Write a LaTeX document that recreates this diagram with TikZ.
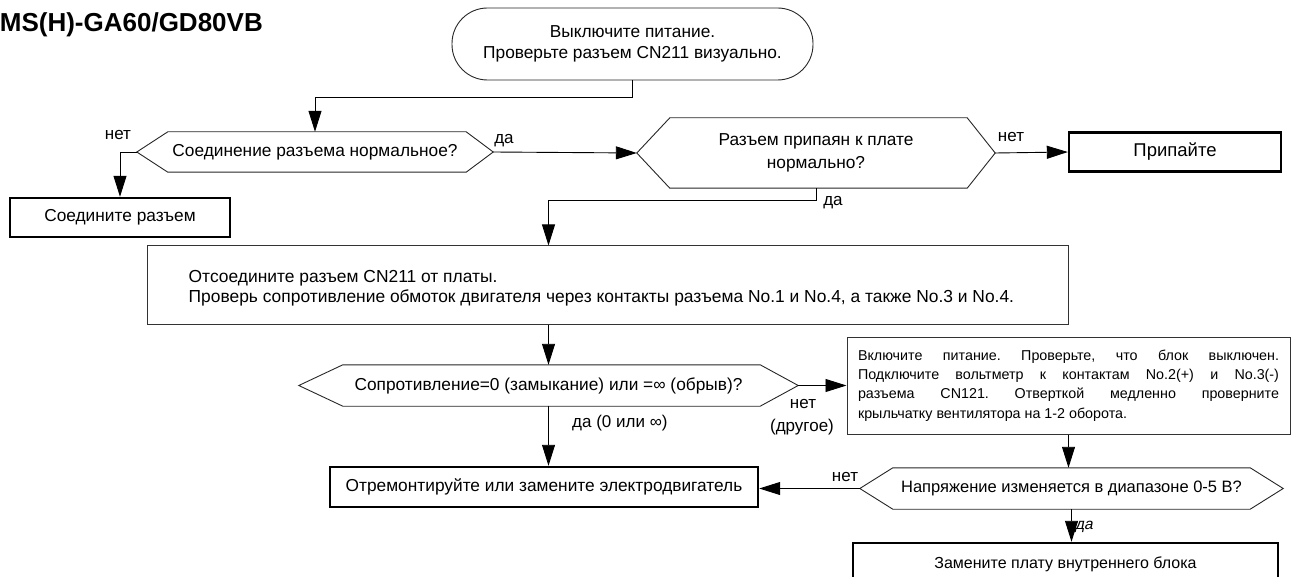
\documentclass[tikz,border=0pt]{standalone}
\usepackage{fontspec}
\setmainfont{Liberation Sans}
\newfontfamily\slantfont[FakeSlant=0.2]{Liberation Sans}
\usetikzlibrary{arrows.meta,calc}
\tikzset{
  thinline/.style={draw=black!85, line width=0.9pt},
  arr/.style={draw=black, line width=0.9pt, -{Triangle[length=21pt,width=13pt]}},
  txt/.style={font=\fontsize{17.3}{21}\selectfont, align=center, inner sep=0pt},
  lbl/.style={font=\fontsize{17}{20}\selectfont, inner sep=0pt},
  thick box/.style={draw=black, line width=2.4pt, txt},
  thin box/.style={draw=black!80, line width=1pt, txt},
  dec/.style={txt},
  term/.style={draw=black!85, line width=0.9pt, rounded corners=35.5pt, txt}
}
\newcommand\hexa[3]{\draw[thinline] (#1.west) -- ([xshift=#2]#1.north west) -- ([xshift=-#3]#1.north east) -- (#1.east) -- ([xshift=-#3]#1.south east) -- ([xshift=#2]#1.south west) -- cycle;}
\begin{document}
\begin{tikzpicture}[x=1pt,y=-1pt]
\useasboundingbox (0,0) rectangle (1292,577);
% title
\node[anchor=base east, inner sep=0pt, font=\fontsize{26}{30}\selectfont\bfseries] (title) at (263,32) {MS(H)-GA60/GD80VB};
% terminal
\node[term, minimum width=361, minimum height=72] (term) at (632.5,44) {Выключите питание.\\Проверьте разъем CN211 визуально.};
% decision 1
\node[dec, minimum width=356, minimum height=40] (d1) at (315,152) {Соединение разъема нормальное?};
\hexa{d1}{31}{27}
% decision 2
\node[dec, minimum width=358, minimum height=70, font=\fontsize{17.3}{23}\selectfont] (d2) at (816,153) {Разъем припаян к плате\\нормально?};
\hexa{d2}{33}{28}
% boxes
\node[thick box, minimum width=220, minimum height=39] (b1) at (120,217.5) {Соедините разъем};
\node[thick box, minimum width=212, minimum height=39, font=\fontsize{18.5}{21}\selectfont] (b2) at (1175,152) {Припайте};
\node[thin box, minimum width=921, minimum height=78] (big) at (607.5,285) {};
\node[anchor=west, align=left, inner sep=0pt, yshift=-3pt, font=\fontsize{17.4}{19.5}\selectfont] (bigtxt) at ([xshift=42pt]big.west) {Отсоедините разъем CN211 от платы.\\Проверь сопротивление обмоток двигателя через контакты разъема No.1 и No.4, а также No.3 и No.4.};
% decision 3
\node[dec, minimum width=499, minimum height=41] (d3) at (548.5,385.5) {Сопротивление=0 (замыкание) или =∞ (обрыв)?};
\hexa{d3}{44}{38}
\node[thin box, minimum width=443, minimum height=97, text width=421, align=justify, font=\fontsize{14.3}{19.3}\selectfont] (b4) at (1068.5,385.5) {\hyphenpenalty=10000\frenchspacing Включите питание. Проверьте, что блок выключен.\linebreak Подключите вольтметр к контактам No.2(+) и No.3(-)\linebreak разъема CN121. Отверткой медленно проверните\linebreak крыльчатку вентилятора на 1-2 оборота.};
\node[thick box, minimum width=428, minimum height=40] (b5) at (544,487) {Отремонтируйте или замените электродвигатель};
% decision 4
\node[dec, minimum width=423, minimum height=41, font=\fontsize{16.5}{20}\selectfont] (d4) at (1071.5,488.5) {Напряжение изменяется в диапазоне 0-5 В?};
\hexa{d4}{33}{33}
\node[thick box, minimum width=425, minimum height=42, font=\fontsize{16}{19}\selectfont] (b6) at (1065.5,564) {Замените плату внутреннего блока};
% connectors
\draw[arr] (term.south) -- ++(0,17) -| (d1.north);
\draw[arr] (d1.west) -| (b1.north);
\draw[arr] (d1.east) -- (d2.west);
\draw[arr] (d2.east) -- (b2.west);
\draw[arr] (d2.south) -- ++(0,12) -| (d3.north |- big.north);
\draw[arr] (d3.north |- big.south) -- (d3.north);
\draw[arr] (d3.south) -- (d3.south |- b5.north);
\draw[arr] (d3.east) -- (b4.west |- d3.east);
\draw[arr] (b4.south) -- (b4.south |- d4.north);
\draw[arr] (d4.west) -- (b5.east |- d4.west);
\draw[arr] (d4.south) -- (d4.south |- b6.north);
% labels
\node[lbl] (l1) at (118,135) {нет};
\node[lbl] (l2) at (504,141) {да};
\node[lbl] (l3) at (1011,137) {нет};
\node[lbl] (l4) at (833,203) {да};
\node[lbl, anchor=west] (l5) at (572,423) {да (0 или ∞)};
\node[lbl] (l6) at (803,404) {нет};
\node[lbl] (l7) at (802,427) {(другое)};
\node[lbl] (l8) at (845,477) {нет};
\node[lbl, font=\fontsize{15.5}{18}\slantfont] (l9) at (1084,527) {да};
\end{tikzpicture}
\end{document}
